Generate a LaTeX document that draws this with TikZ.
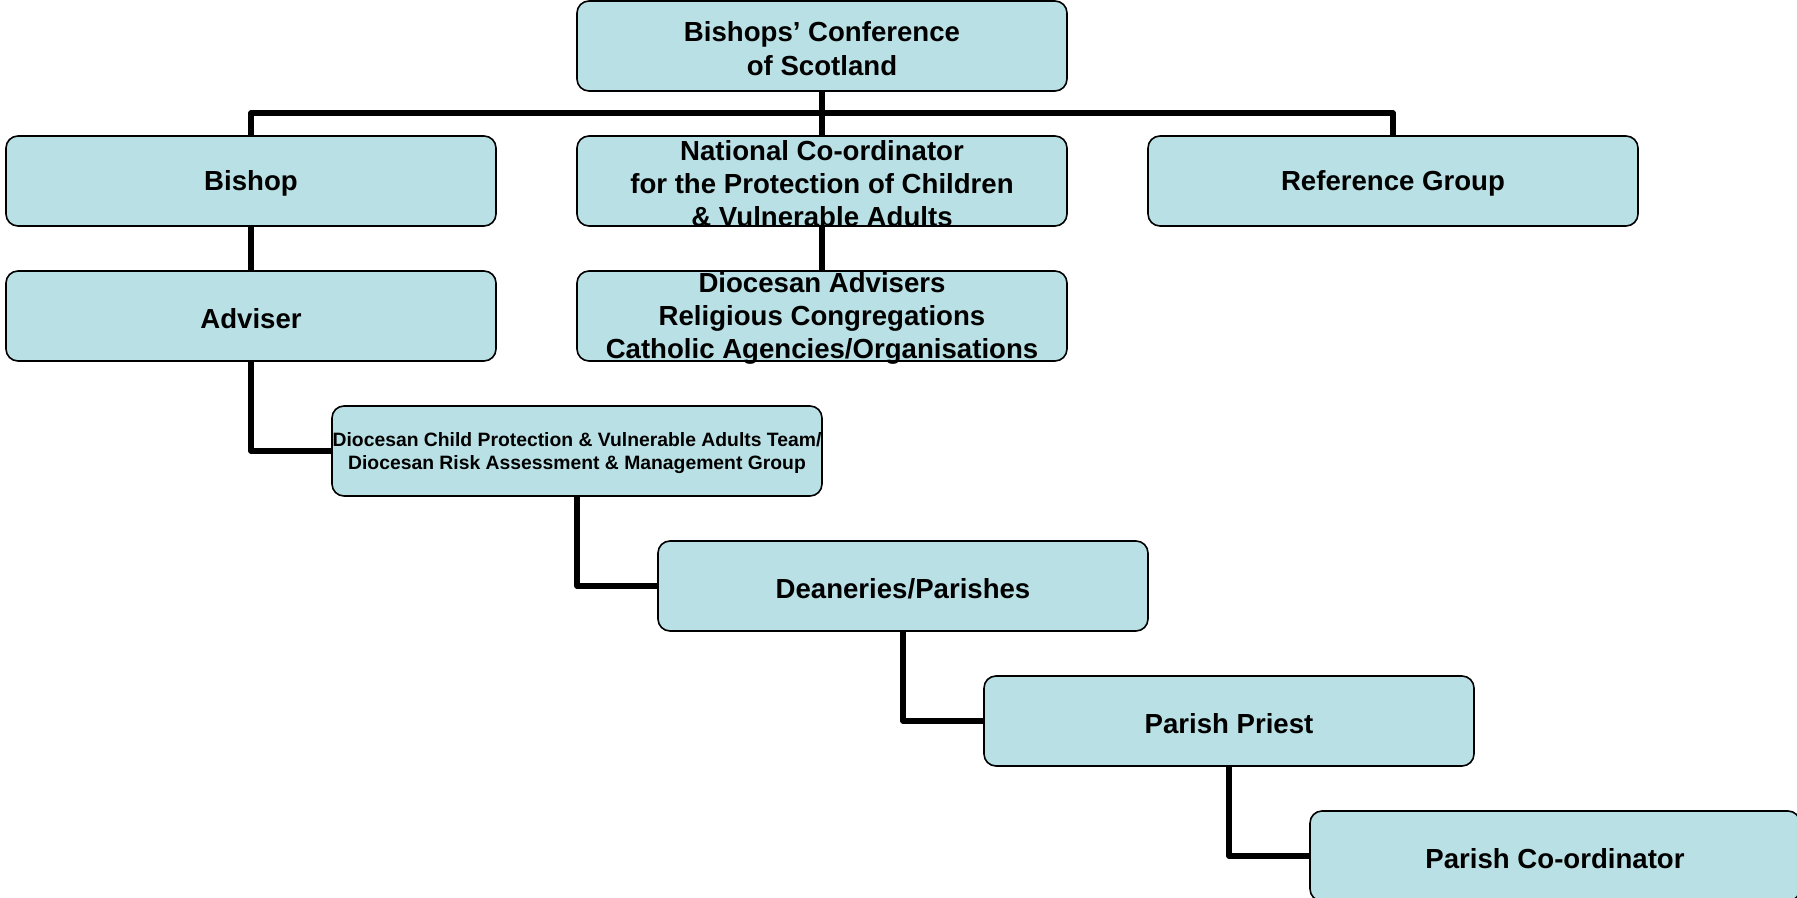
\documentclass[tikz,border=0pt]{standalone}
\usepackage{fontspec}
\setmainfont{Liberation Sans}
\definecolor{boxfill}{HTML}{B9E0E4}
\begin{document}
\begin{tikzpicture}[x=0.75pt,y=-0.75pt,
  box/.style={draw=black,line width=1.2pt,fill=boxfill,rounded corners=9pt,
    minimum width=367.5pt,minimum height=67.5pt,inner sep=0pt},
  txt/.style={align=center,inner sep=0pt,yshift=-2pt,font=\fontsize{20.7}{24.8}\selectfont\bfseries},
  smalltxt/.style={align=center,inner sep=0pt,yshift=-1.8pt,font=\fontsize{14.5}{17.3}\selectfont\bfseries},
  conn/.style={draw=black,line width=3.9pt,line join=round}]
\useasboundingbox (0,0) rectangle (1797,898);
% connectors (drawn first, behind boxes)
\coordinate (bus) at (822,113);
\coordinate (topS) at (822,91);
\coordinate (bishN) at (251,136);
\coordinate (refN) at (1393,136);
\draw[conn] (topS) -- (822,136);
\draw[conn] (bishN) |- (bus) -| (refN);
\draw[conn] (251,226) -- (251,271);
\draw[conn] (822,226) -- (822,271);
\draw[conn] (251,360) |- (332,451);
\draw[conn] (577,495) |- (658,586);
\draw[conn] (903,630) |- (984,721);
\draw[conn] (1229,765) |- (1310,856);
% boxes
\node[box] (top) at (822,46) {};
\node[box] (bishop) at (251,181) {};
\node[box] (nat) at (822,181) {};
\node[box] (ref) at (1393,181) {};
\node[box] (adviser) at (251,316) {};
\node[box] (dioadv) at (822,316) {};
\node[box] (dcpt) at (577,451) {};
\node[box] (dean) at (903,586) {};
\node[box] (priest) at (1229,721) {};
\node[box] (coord) at (1555,856) {};
% texts
\node[txt] (topT) at (top) {Bishops’ Conference\\of Scotland};
\node[txt] (bishopT) at (bishop) {Bishop};
\node[txt] (natT) at (nat) {National Co-ordinator\\for the Protection of Children\\\& Vulnerable Adults};
\node[txt] (refT) at (ref) {Reference Group};
\node[txt] (adviserT) at (adviser) {Adviser};
\node[txt] (dioadvT) at (dioadv) {Diocesan Advisers\\Religious Congregations\\Catholic Agencies/Organisations};
\node[smalltxt] (dcptT) at (dcpt) {Diocesan Child Protection \& Vulnerable Adults Team/\\Diocesan Risk Assessment \& Management Group};
\node[txt] (deanT) at (dean) {Deaneries/Parishes};
\node[txt] (priestT) at (priest) {Parish Priest};
\node[txt] (coordT) at (coord) {Parish Co-ordinator};
\end{tikzpicture}
\end{document}
